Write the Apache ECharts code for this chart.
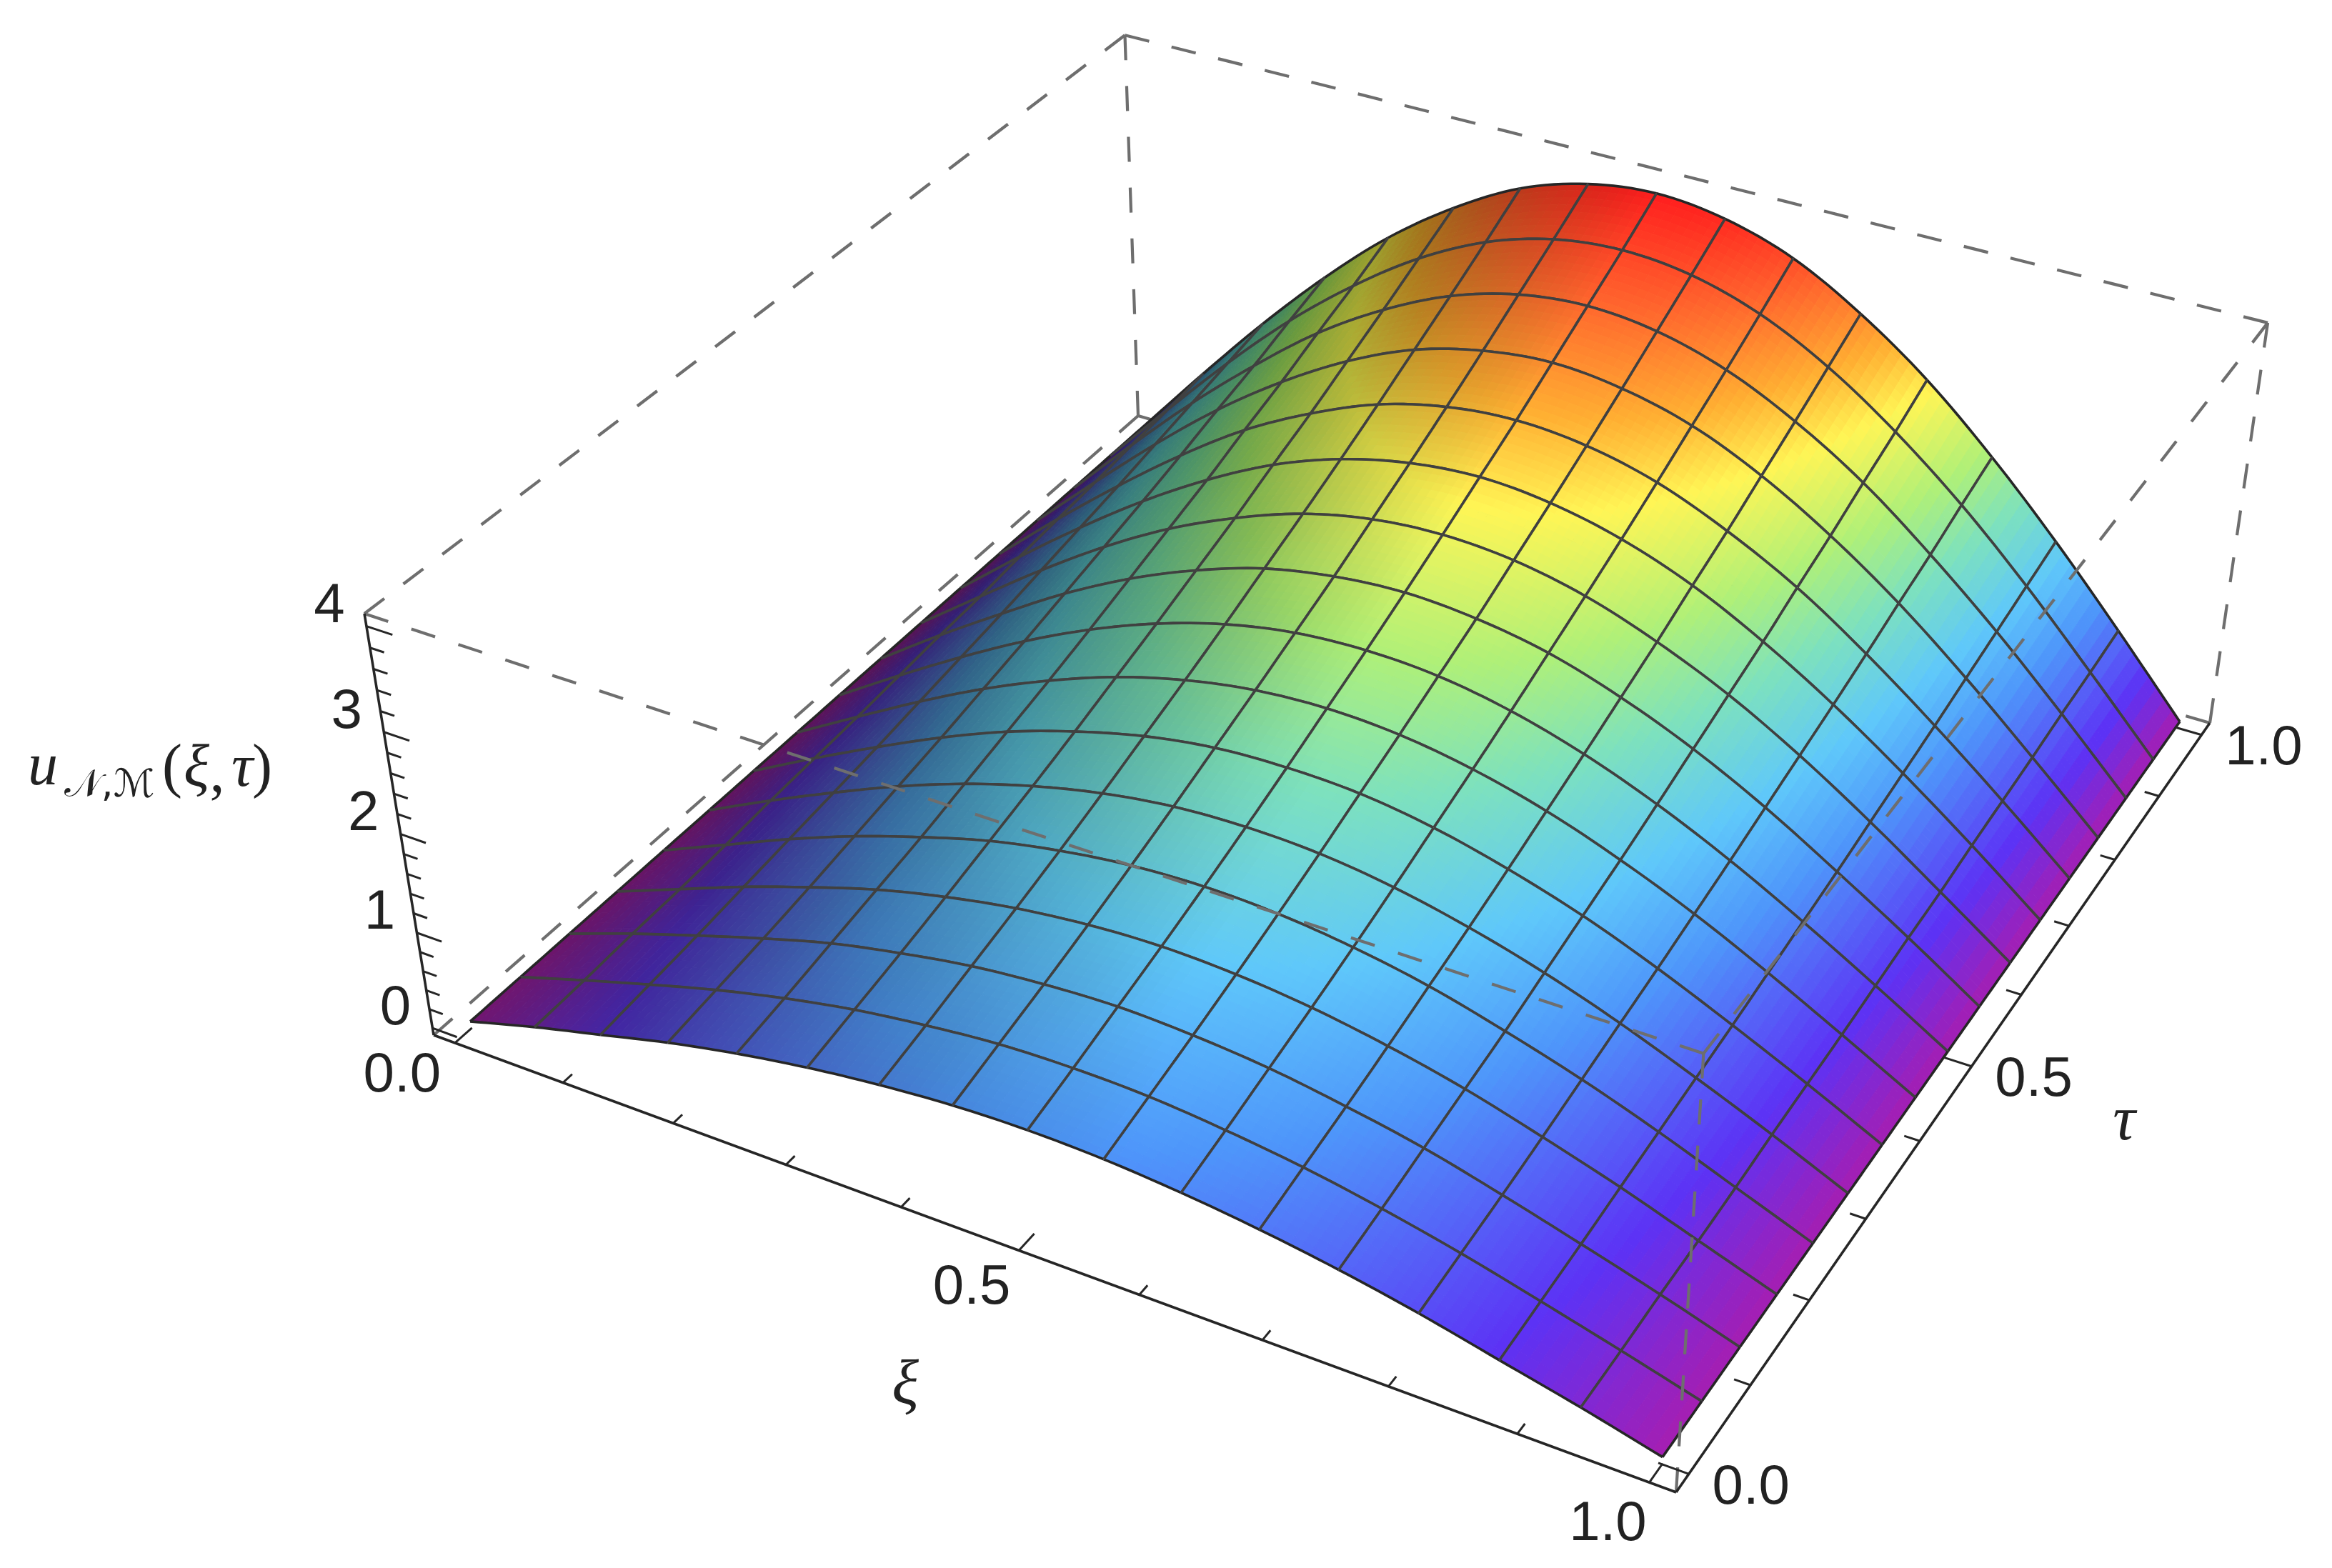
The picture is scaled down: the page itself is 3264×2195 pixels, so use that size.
<!DOCTYPE html>
<html>
<head>
<meta charset="utf-8">
<title>surface</title>
<style>
  html, body { margin: 0; padding: 0; background: #fff; }
  #main { width: 3264px; height: 2195px; }
</style>
<script src="https://cdn.jsdelivr.net/npm/echarts@6.0.0/dist/echarts.min.js"></script>
</head>
<body>
<div id="main"></div>
<script>
// mesh nodes
var xiNodes = [0, 0.0625, 0.125, 0.1875, 0.25, 0.3125, 0.375, 0.4375, 0.5, 0.5625, 0.625, 0.6875, 0.75, 0.8125, 0.875, 0.9375, 1];
var tauNodes = [0, 0.0625, 0.125, 0.1875, 0.25, 0.3125, 0.375, 0.4375, 0.5, 0.5625, 0.625, 0.6875, 0.75, 0.8125, 0.875, 0.9375, 1];
// heights, one row for each tau node
var heights = [
  [0, 0.20, 0.38, 0.56, 0.71, 0.83, 0.92, 0.98, 1.00, 0.98, 0.92, 0.83, 0.71, 0.56, 0.38, 0.20, 0],
  [0, 0.22, 0.43, 0.63, 0.80, 0.94, 1.04, 1.11, 1.13, 1.11, 1.04, 0.94, 0.80, 0.63, 0.43, 0.22, 0],
  [0, 0.25, 0.48, 0.70, 0.90, 1.05, 1.17, 1.24, 1.27, 1.24, 1.17, 1.05, 0.90, 0.70, 0.48, 0.25, 0],
  [0, 0.27, 0.54, 0.78, 1.00, 1.17, 1.30, 1.38, 1.41, 1.38, 1.30, 1.17, 1.00, 0.78, 0.54, 0.27, 0],
  [0, 0.30, 0.60, 0.87, 1.10, 1.30, 1.44, 1.53, 1.56, 1.53, 1.44, 1.30, 1.10, 0.87, 0.60, 0.30, 0],
  [0, 0.34, 0.66, 0.96, 1.22, 1.43, 1.59, 1.69, 1.72, 1.69, 1.59, 1.43, 1.22, 0.96, 0.66, 0.34, 0],
  [0, 0.37, 0.72, 1.05, 1.34, 1.57, 1.75, 1.86, 1.89, 1.86, 1.75, 1.57, 1.34, 1.05, 0.72, 0.37, 0],
  [0, 0.40, 0.79, 1.15, 1.46, 1.72, 1.91, 2.03, 2.07, 2.03, 1.91, 1.72, 1.46, 1.15, 0.79, 0.40, 0],
  [0, 0.44, 0.86, 1.25, 1.59, 1.87, 2.08, 2.21, 2.25, 2.21, 2.08, 1.87, 1.59, 1.25, 0.86, 0.44, 0],
  [0, 0.48, 0.93, 1.36, 1.73, 2.03, 2.26, 2.39, 2.44, 2.39, 2.26, 2.03, 1.73, 1.36, 0.93, 0.48, 0],
  [0, 0.51, 1.01, 1.47, 1.87, 2.19, 2.44, 2.59, 2.64, 2.59, 2.44, 2.19, 1.87, 1.47, 1.01, 0.51, 0],
  [0, 0.56, 1.09, 1.58, 2.01, 2.37, 2.63, 2.79, 2.85, 2.79, 2.63, 2.37, 2.01, 1.58, 1.09, 0.56, 0],
  [0, 0.60, 1.17, 1.70, 2.17, 2.54, 2.83, 3.00, 3.06, 3.00, 2.83, 2.54, 2.17, 1.70, 1.17, 0.60, 0],
  [0, 0.64, 1.26, 1.83, 2.32, 2.73, 3.04, 3.22, 3.29, 3.22, 3.04, 2.73, 2.32, 1.83, 1.26, 0.64, 0],
  [0, 0.69, 1.35, 1.95, 2.49, 2.92, 3.25, 3.45, 3.52, 3.45, 3.25, 2.92, 2.49, 1.95, 1.35, 0.69, 0],
  [0, 0.73, 1.44, 2.09, 2.65, 3.12, 3.47, 3.68, 3.75, 3.68, 3.47, 3.12, 2.65, 2.09, 1.44, 0.73, 0],
  [0, 0.78, 1.53, 2.22, 2.83, 3.32, 3.70, 3.92, 4.00, 3.92, 3.70, 3.32, 2.83, 2.22, 1.53, 0.78, 0]
];
var xiTicks = [0, 0.1, 0.2, 0.3, 0.4, 0.5, 0.6, 0.7, 0.8, 0.9, 1];
var tauTicks = [0, 0.1, 0.2, 0.3, 0.4, 0.5, 0.6, 0.7, 0.8, 0.9, 1];
var uTicks = [0, 0.2, 0.4, 0.6, 0.8, 1, 1.2, 1.4, 1.6, 1.8, 2, 2.2, 2.4, 2.6, 2.8, 3, 3.2, 3.4, 3.6, 3.8, 4];
var xiLabels = ['0.0', '0.5', '1.0'];
var tauLabels = ['0.0', '0.5', '1.0'];
var uLabels = ['0', '1', '2', '3', '4'];

// height colours
var colorStops = [
  [0, [165, 30, 178]],
  [0.4, [92, 50, 245]],
  [1, [78, 150, 250]],
  [1.4, [95, 200, 250]],
  [1.85, [125, 225, 190]],
  [2.25, [175, 240, 120]],
  [2.75, [255, 245, 85]],
  [3.1, [255, 175, 50]],
  [3.55, [255, 100, 45]],
  [4, [255, 30, 30]]
];

// camera, fitted on the corners of the box
var boxOrigin = [607, 1449];
var boxXiEnd = [2346, 2089];
var boxTauEnd = [1593, 582];
var boxUpEnd = [510, 859];
var perspXi = -0.1096, perspTau = 0.2139, perspUp = -0.07;

var SUBDIV = 8;
var DASH = 35;
var DASH_PERIOD = 68;
var DASH_COLOR = '#6e6e6e';
var AXIS_COLOR = '#262626';
var MESH_COLOR = '#404040';
var TEXT_COLOR = '#222222';

function fracXi(v) { return (v + 0.02) / 1.04; }
function fracTau(v) { return (v + 0.02) / 1.04; }
function fracU(v) { return (v + 0.075) / 4.192; }

function project(s, t, w) {
  var den = 1 + perspXi * s + perspTau * t + perspUp * w;
  var o = boxOrigin;
  var x = o[0] + s * ((1 + perspXi) * boxXiEnd[0] - o[0]) + t * ((1 + perspTau) * boxTauEnd[0] - o[0]) + w * ((1 + perspUp) * boxUpEnd[0] - o[0]);
  var y = o[1] + s * ((1 + perspXi) * boxXiEnd[1] - o[1]) + t * ((1 + perspTau) * boxTauEnd[1] - o[1]) + w * ((1 + perspUp) * boxUpEnd[1] - o[1]);
  return [x / den, y / den];
}

function spline(a, b, c, d, t) {
  return b + 0.5 * t * (c - a + t * (2 * a - 5 * b + 4 * c - d + t * (3 * (b - c) + d - a)));
}

function nodeHeight(i, j) {
  // outside the table the edge slope carries on
  if (i < 0) return 2 * nodeHeight(0, j) - nodeHeight(1, j);
  if (i > 16) return 2 * nodeHeight(16, j) - nodeHeight(15, j);
  if (j < 0) return 2 * nodeHeight(i, 0) - nodeHeight(i, 1);
  if (j > 16) return 2 * nodeHeight(i, 16) - nodeHeight(i, 15);
  return heights[j][i];
}

// smooth height between the nodes, fi and fj in node units
function heightAt(fi, fj) {
  var i = Math.min(15, Math.floor(fi)), j = Math.min(15, Math.floor(fj));
  var u = fi - i, v = fj - j, col = [];
  for (var k = -1; k <= 2; k++) {
    col.push(spline(nodeHeight(i - 1, j + k), nodeHeight(i, j + k), nodeHeight(i + 1, j + k), nodeHeight(i + 2, j + k), u));
  }
  return spline(col[0], col[1], col[2], col[3], v);
}

function surfacePoint(fi, fj) {
  return project(fracXi(fi / 16), fracTau(fj / 16), fracU(heightAt(fi, fj)));
}

function baseColor(z) {
  for (var i = 1; i < colorStops.length; i++) {
    if (z <= colorStops[i][0]) {
      var a = colorStops[i - 1], b = colorStops[i], f = (z - a[0]) / (b[0] - a[0]);
      return [0, 1, 2].map(function (c) { return a[1][c] + (b[1][c] - a[1][c]) * f; });
    }
  }
  return colorStops[colorStops.length - 1][1];
}

// height colour, darkened on the side turned away from the light
function shadedColor(fi, fj) {
  var e = 0.05;
  var z = heightAt(fi, fj);
  var sx = 0.15 * (heightAt(fi + e, fj) - heightAt(Math.max(0, fi - e), fj)) / ((fi - Math.max(0, fi - e) + e) / 16);
  var st = 0.15 * (heightAt(fi, fj + e) - heightAt(fi, Math.max(0, fj - e))) / ((fj - Math.max(0, fj - e) + e) / 16);
  var len = Math.sqrt(1 + sx * sx + st * st);
  // the low part of the surface is duller even where it lies flat
  var dull = 0.2 * Math.max(0, 1 - z / 2.5);
  var a = Math.max(0, (sx + dull) / len);
  var c = baseColor(z);
  return 'rgb(' + Math.round(c[0] * (1 - 0.5 * a)) + ',' + Math.round(c[1] * (1 - 0.45 * a)) + ',' + Math.round(c[2] * (1 - 0.6 * a)) + ')';
}

function toCoord(api, pts) {
  return pts.map(function (p) { return api.coord(p); });
}

function meshLine(api, pts, color) {
  return {
    type: 'polyline',
    shape: { points: toCoord(api, pts) },
    style: { stroke: color, fill: null, lineWidth: 3.6 },
    silent: true
  };
}

function renderCell(params, api) {
  var i = api.value(0), j = api.value(1);
  var children = [];
  var p, q, fi, fj, step = 1 / SUBDIV;
  for (q = SUBDIV - 1; q >= 0; q--) {
    for (p = 0; p < SUBDIV; p++) {
      fi = i + p * step;
      fj = j + q * step;
      var col = shadedColor(fi + step / 2, fj + step / 2);
      children.push({
        type: 'polygon',
        shape: {
          points: toCoord(api, [
            surfacePoint(fi, fj), surfacePoint(fi + step, fj),
            surfacePoint(fi + step, fj + step), surfacePoint(fi, fj + step)
          ])
        },
        style: { fill: col, stroke: col, lineWidth: 1 },
        silent: true
      });
    }
  }
  var a = [], b = [], c = [], d = [];
  for (p = 0; p <= SUBDIV; p++) {
    a.push(surfacePoint(i + p * step, j));
    b.push(surfacePoint(i + p * step, j + 1));
    c.push(surfacePoint(i, j + p * step));
    d.push(surfacePoint(i + 1, j + p * step));
  }
  children.push(meshLine(api, a, j === 0 ? AXIS_COLOR : MESH_COLOR));
  children.push(meshLine(api, b, j === 15 ? AXIS_COLOR : MESH_COLOR));
  children.push(meshLine(api, c, i === 0 ? AXIS_COLOR : MESH_COLOR));
  children.push(meshLine(api, d, i === 15 ? AXIS_COLOR : MESH_COLOR));
  return { type: 'group', children: children };
}

// each edge gets a dash at both of its corners
function edgeDash(pa, pb) {
  var len = Math.sqrt((pb[0] - pa[0]) * (pb[0] - pa[0]) + (pb[1] - pa[1]) * (pb[1] - pa[1]));
  var n = Math.max(1, Math.round((len - DASH) / DASH_PERIOD));
  return [DASH, (len - DASH) / n - DASH];
}

function renderEdge(dashed) {
  return function (params, api) {
    var pa = api.coord(project(api.value(0), api.value(1), api.value(2)));
    var pb = api.coord(project(api.value(3), api.value(4), api.value(5)));
    return {
      type: 'line',
      shape: { x1: pa[0], y1: pa[1], x2: pb[0], y2: pb[1] },
      style: dashed
        ? { stroke: DASH_COLOR, lineWidth: 4.2, lineDash: edgeDash(pa, pb) }
        : { stroke: AXIS_COLOR, lineWidth: 3.6 },
      silent: true
    };
  };
}

// far cells first, so the near ones paint over them
var cells = [];
for (var tj = tauNodes.length - 2; tj >= 0; tj--) {
  for (var xi = 0; xi < xiNodes.length - 1; xi++) {
    cells.push([xi, tj]);
  }
}

var backEdges = [
  [0, 0, 0, 0, 1, 0], [0, 1, 0, 1, 1, 0], [0, 1, 0, 0, 1, 1],
  [0, 0, 1, 0, 1, 1], [0, 1, 1, 1, 1, 1], [1, 1, 0, 1, 1, 1]
];
var frontEdges = [
  [0, 0, 1, 1, 0, 1], [1, 0, 1, 1, 1, 1], [1, 0, 0, 1, 0, 1]
];
var solidEdges = [
  [0, 0, 0, 1, 0, 0], [1, 0, 0, 1, 1, 0], [0, 0, 0, 0, 0, 1]
];

var tickLines = [];
xiTicks.forEach(function (v, k) {
  var len = k % 5 === 0 ? 0.02 : 0.011;
  tickLines.push([fracXi(v), 0, 0, fracXi(v), len, 0]);
});
tauTicks.forEach(function (v, k) {
  var len = k % 5 === 0 ? 0.022 : 0.012;
  tickLines.push([1, fracTau(v), 0, 1 - len, fracTau(v), 0]);
});
uTicks.forEach(function (v, k) {
  var len = k % 5 === 0 ? 0.022 : 0.012;
  tickLines.push([0, 0, fracU(v), len, 0, fracU(v)]);
});

var FONT = '78px "Liberation Sans", Arial, sans-serif';
var MATH = 'italic 88px "Liberation Serif", serif';
var MATH_SMALL = 'italic 84px "Liberation Serif", serif';
var PAREN = '84px "Liberation Serif", serif';
var textItems = [];
[0, 0.5, 1].forEach(function (v, k) {
  var p = project(fracXi(v), 0, 0);
  textItems.push([p[0] - 74 + 16 * v, p[1] + 47 + 12 * v, xiLabels[k], FONT]);
  p = project(1, fracTau(v), 0);
  textItems.push([p[0] + 87, p[1] + 20, tauLabels[k], FONT]);
});
[0, 1, 2, 3, 4].forEach(function (v, k) {
  var p = project(0, 0, fracU(v));
  textItems.push([p[0] - 52, p[1] - 27, uLabels[k], FONT]);
});
textItems.push([1267, 1942, '\u03be', MATH]);
textItems.push([2973, 1572, '\u03c4', MATH]);
textItems.push([60, 1076, 'u', MATH_SMALL]);
textItems.push([153, 1101, '\ud835\udca9,\u2133', '54px "DejaVu Sans", "Liberation Serif", serif']);
textItems.push([241, 1078, '(', PAREN]);
textItems.push([275, 1078, '\u03be', MATH_SMALL]);
textItems.push([304, 1086, ',', PAREN]);
textItems.push([339, 1078, '\u03c4', MATH_SMALL]);
textItems.push([367, 1078, ')', PAREN]);

var chart = echarts.init(document.getElementById('main'));
chart.setOption({
  animation: false,
  backgroundColor: '#ffffff',
  grid: { left: 0, right: 0, top: 0, bottom: 0 },
  xAxis: { type: 'value', min: 0, max: 3264, show: false },
  yAxis: { type: 'value', min: 0, max: 2195, inverse: true, show: false },
  series: [
    { type: 'custom', coordinateSystem: 'cartesian2d', z: 1, clip: false, renderItem: renderEdge(true), data: backEdges },
    { type: 'custom', coordinateSystem: 'cartesian2d', z: 2, clip: false, progressive: 0, renderItem: renderCell, data: cells },
    { type: 'custom', coordinateSystem: 'cartesian2d', z: 3, clip: false, renderItem: renderEdge(true), data: frontEdges },
    { type: 'custom', coordinateSystem: 'cartesian2d', z: 3, clip: false, renderItem: renderEdge(false), data: solidEdges },
    {
      type: 'custom', coordinateSystem: 'cartesian2d', z: 3, clip: false, data: tickLines,
      renderItem: function (params, api) {
        var pa = api.coord(project(api.value(0), api.value(1), api.value(2)));
        var pb = api.coord(project(api.value(3), api.value(4), api.value(5)));
        return {
          type: 'line',
          shape: { x1: pa[0], y1: pa[1], x2: pb[0], y2: pb[1] },
          style: { stroke: AXIS_COLOR, lineWidth: 3 },
          silent: true
        };
      }
    },
    {
      type: 'custom', coordinateSystem: 'cartesian2d', z: 4, clip: false,
      data: textItems.map(function (t, k) { return [t[0], t[1], k]; }),
      renderItem: function (params, api) {
        var pos = api.coord([api.value(0), api.value(1)]);
        var item = textItems[api.value(2)];
        return {
          type: 'text',
          x: pos[0],
          y: pos[1],
          style: { text: item[2], font: item[3], fill: TEXT_COLOR, align: 'center', verticalAlign: 'middle' },
          silent: true
        };
      }
    }
  ]
});
</script>
</body>
</html>
